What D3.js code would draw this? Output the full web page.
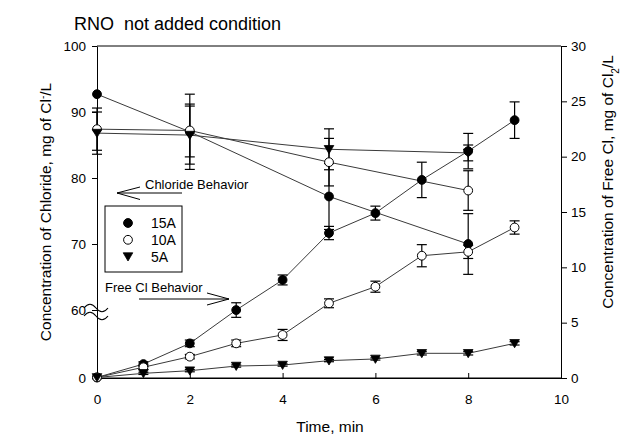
<!DOCTYPE html>
<html><head><meta charset="utf-8">
<script src="https://cdn.jsdelivr.net/npm/d3@7"></script>
<style>
body{margin:0;background:#fff}
svg text{font-family:Arial,"Liberation Sans",sans-serif;fill:#000}
</style>
</head><body><svg id="c" width="633" height="444"></svg>
<script>
// ---------- data ----------
const times = [0,1,2,3,4,5,6,7,8,9];
const chlorideTimes = [0,2,5,8];
const seriesNames = ["15A","10A","5A"];
const chloride15A = [92.7, 87.0, 77.2, 70.0];
const chloride15AErr = [0, 5.7, 5.0, 4.6];
const chloride10A = [87.4, 87.2, 82.4, 78.1];
const chloride10AErr = [3.2, 4.0, 3.6, 3.0];
const chloride5A = [86.8, 86.5, 84.35, 83.8];
const chloride5AErr = [3.2, 4.4, 3.1, 1.2];
const freeCl15A = [0.05, 1.26, 3.13, 6.14, 8.86, 13.1, 14.9, 17.9, 20.5, 23.3];
const freeCl15AErr = [0, 0.2, 0.3, 0.66, 0.45, 0.6, 0.63, 1.6, 1.6, 1.65];
const freeCl10A = [0.05, 0.97, 1.93, 3.13, 3.89, 6.75, 8.25, 11.05, 11.4, 13.6];
const freeCl10AErr = [0, 0.2, 0.2, 0.3, 0.5, 0.4, 0.5, 1.0, 0.6, 0.6];
const freeCl5A = [0.05, 0.42, 0.66, 1.08, 1.17, 1.57, 1.72, 2.23, 2.23, 3.13];
const freeCl5AErr = [0, 0.1, 0.1, 0.1, 0.1, 0.1, 0.1, 0.15, 0.15, 0.15];
const xTicks = [0,2,4,6,8,10];
const leftTicks = [0,60,70,80,90,100];
const leftMinor = [20,43].concat(d3.range(62,100,2).filter(v => v % 10 !== 0));
const rightTicks = [0,5,10,15,20,25,30];
const rightMinor = d3.range(0,31,1).filter(v => v % 5 !== 0);
const xMinor = d3.range(0,10.001,0.4);

// ---------- layout ----------
const svg = d3.select("#c");
const L = 97, R = 561, T = 46, B = 378;
const x = d3.scaleLinear().domain([0,10]).range([L,R]);
const yL = d3.scaleLinear().domain([0,60,100]).range([B,310,T]);
const yR = d3.scaleLinear().domain([0,30]).range([B,T]);

// title
svg.append("text").attr("x",74).attr("y",30).style("font-size","18px")
  .style("white-space","pre").text("RNO  not added condition");

// frame
svg.append("line").attr("x1",L).attr("x2",R).attr("y1",T).attr("y2",T).attr("stroke","#000");

// bottom axis
const gx = svg.append("g").attr("transform",`translate(0,${B})`);
gx.call(d3.axisBottom(x).tickValues(xMinor).tickSize(-4).tickSizeOuter(0).tickFormat(""));
gx.call(d3.axisBottom(x).tickValues(xTicks).tickSize(-5).tickSizeOuter(0).tickPadding(16).tickFormat(d3.format("d")));
svg.append("line").attr("x1",L).attr("x2",R).attr("y1",B).attr("y2",B).attr("stroke","#000");

// left axis
const gl = svg.append("g").attr("transform",`translate(${L},0)`);
gl.call(d3.axisLeft(yL).tickValues(leftMinor).tickSize(-4).tickSizeOuter(0).tickFormat(""));
gl.call(d3.axisLeft(yL).tickValues(leftTicks).tickSize(5).tickSizeOuter(0).tickPadding(6).tickFormat(d3.format("d")));

// right axis
const gr = svg.append("g").attr("transform",`translate(${R},0)`);
gr.call(d3.axisRight(yR).tickValues(rightMinor).tickSize(4).tickSizeOuter(0).tickFormat(""));
gr.call(d3.axisRight(yR).tickValues(rightTicks).tickSize(6).tickSizeOuter(0).tickPadding(4).tickFormat(d3.format("d")));

svg.selectAll(".tick text").style("font-size","13.5px").style("font-family","Arial, 'Liberation Sans', sans-serif");
svg.selectAll(".domain").attr("stroke","#000");

// axis break squiggle
const yb = yL(60);
[-2, 6].forEach(o => {
  svg.append("path")
    .attr("d",`M84,${yb+o} c4,-5 8,-5 12,0 s8,5 12,0`)
    .attr("fill","none").attr("stroke","#000").attr("stroke-width",1.1);
});

// axis titles
svg.append("text").attr("transform","translate(51,212) rotate(-90)").attr("text-anchor","middle")
  .style("font-size","15.5px")
  .call(t => {
    t.append("tspan").text("Concentration of Chloride, mg of Cl");
    t.append("tspan").attr("baseline-shift","super").style("font-size","10px").text("-");
    t.append("tspan").text("/L");
  });
svg.append("text").attr("transform","translate(613,182) rotate(-90)").attr("text-anchor","middle")
  .style("font-size","15.5px")
  .call(t => {
    t.append("tspan").text("Concentration of Free Cl, mg of Cl");
    t.append("tspan").attr("baseline-shift","sub").style("font-size","10px").text("2");
    t.append("tspan").text("/L");
  });
svg.append("text").attr("x",330).attr("y",432).attr("text-anchor","middle")
  .style("font-size","15.5px").text("Time, min");

// ---------- series ----------
const sets = [
  {t: chlorideTimes, v: chloride15A, e: chloride15AErr, y: yL, m: "fc"},
  {t: chlorideTimes, v: chloride10A, e: chloride10AErr, y: yL, m: "oc"},
  {t: chlorideTimes, v: chloride5A,  e: chloride5AErr,  y: yL, m: "tr"},
  {t: times, v: freeCl15A, e: freeCl15AErr, y: yR, m: "fc"},
  {t: times, v: freeCl10A, e: freeCl10AErr, y: yR, m: "oc"},
  {t: times, v: freeCl5A,  e: freeCl5AErr,  y: yR, m: "tr"}
];

const line = (s) => d3.line().x((d,i) => x(s.t[i])).y(d => s.y(d));
sets.forEach(s => {
  svg.append("path").attr("d", line(s)(s.v)).attr("fill","none")
    .attr("stroke","#3a3a3a").attr("stroke-width",1);
});

// error bars
sets.forEach(s => {
  s.v.forEach((v,i) => {
    const err = s.e[i];
    if (!err) return;
    const cx = x(s.t[i]), y1 = s.y(v + err), y2 = s.y(v - err);
    const g = svg.append("g").attr("stroke","#000").attr("stroke-width",1.2);
    g.append("line").attr("x1",cx).attr("x2",cx).attr("y1",y1).attr("y2",y2);
    g.append("line").attr("x1",cx-5).attr("x2",cx+5).attr("y1",y1).attr("y2",y1);
    g.append("line").attr("x1",cx-5).attr("x2",cx+5).attr("y1",y2).attr("y2",y2);
  });
});

function marker(g, type, cx, cy) {
  if (type === "tr") {
    g.append("path").attr("d", `M${cx-4.8},${cy-3.8} L${cx+4.8},${cy-3.8} L${cx},${cy+4.4} Z`)
      .attr("fill","#000").attr("stroke","#000").attr("stroke-width",0.8);
  } else {
    g.append("circle").attr("cx",cx).attr("cy",cy).attr("r",4.4)
      .attr("fill", type === "fc" ? "#000" : "#fff").attr("stroke","#000").attr("stroke-width",1);
  }
}
sets.forEach(s => {
  const g = svg.append("g");
  s.v.forEach((v,i) => marker(g, s.m, x(s.t[i]), s.y(v)));
});

// ---------- legend ----------
svg.append("rect").attr("x",105).attr("y",206).attr("width",77).attr("height",66)
  .attr("fill","#fff").attr("stroke","#000").attr("stroke-width",1);
const legTypes = ["fc","oc","tr"];
seriesNames.forEach((n,i) => {
  const yy = 223 + i*16.8;
  marker(svg, legTypes[i], 128, yy);
  svg.append("text").attr("x",151).attr("y",yy+5).style("font-size","14px").text(n);
});

// ---------- annotations ----------
const ann = svg.append("g").attr("stroke","#000").attr("stroke-width",1).attr("fill","none");
ann.append("line").attr("x1",182).attr("x2",117).attr("y1",193).attr("y2",193);
ann.append("path").attr("d","M140,187 L117,193 L140,199.5");
svg.append("text").attr("x",145).attr("y",189).style("font-size","13px").text("Chloride Behavior");

ann.append("line").attr("x1",139).attr("x2",229).attr("y1",299).attr("y2",299);
ann.append("path").attr("d","M207,293 L229,299 L207,305");
svg.append("text").attr("x",105).attr("y",292).style("font-size","13px").text("Free Cl Behavior");
</script>
</body></html>
